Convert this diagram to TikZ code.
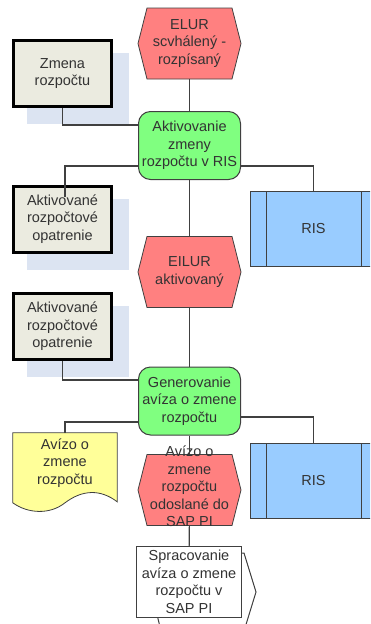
\documentclass[tikz,border=0pt]{standalone}
\usepackage{fontspec}
\setmainfont{Liberation Sans}
\usetikzlibrary{calc,backgrounds}
\definecolor{evtred}{RGB}{255,128,128}
\definecolor{fungreen}{RGB}{128,255,128}
\definecolor{risblue}{RGB}{153,204,255}
\definecolor{docyellow}{RGB}{255,255,153}
\definecolor{boxfill}{RGB}{235,235,224}
\definecolor{shadowblue}{RGB}{220,228,242}
\definecolor{edgegrey}{RGB}{64,64,64}
\definecolor{txtgrey}{RGB}{51,51,51}
\newcommand\evthex[1]{\path[evtshape] ($(#1.center)+(-51.5,0)$) -- ($(#1.center)+(-42.5,-35.5)$) -- ($(#1.center)+(42.5,-35.5)$) -- ($(#1.center)+(51.5,0)$) -- ($(#1.center)+(42.5,35.5)$) -- ($(#1.center)+(-42.5,35.5)$) -- cycle;}
\newcommand\orgshadow[1]{\path[shadowfill] ($(#1.north west)+(15,14)$) rectangle ($(#1.south east)+(16,16)$);}
\newcommand\rislines[1]{\draw[risline] ($(#1.north west)+(16,0)$) -- ($(#1.south west)+(16,0)$); \draw[risline] ($(#1.north east)+(-16,0)$) -- ($(#1.south east)+(-16,0)$);}
\begin{document}
\begin{tikzpicture}[x=1pt,y=-1pt,
  every node/.style={font=\fontsize{14.5}{17.5}\selectfont, text=txtgrey, align=center, inner sep=0pt},
  orgbox/.style={draw=black, line width=3pt, fill=boxfill, minimum width=98pt, minimum height=66pt},
  funcbox/.style={draw=edgegrey, line width=1pt, fill=fungreen, rounded corners=12pt, minimum width=102pt, minimum height=68pt},
  evtnode/.style={minimum width=103pt, minimum height=70pt},
  evtshape/.style={fill=evtred, draw=edgegrey, line width=0.8pt},
  risbox/.style={draw=edgegrey, line width=1pt, fill=risblue, minimum width=126pt, minimum height=75pt},
  risline/.style={draw=edgegrey, line width=1pt},
  docnode/.style={minimum width=104pt, minimum height=60pt},
  docshape/.style={fill=docyellow, draw=edgegrey, line width=0.8pt},
  procbox/.style={draw=edgegrey, line width=1pt, fill=white, minimum width=105pt, minimum height=71pt},
  procback/.style={draw=edgegrey, line width=1pt, fill=white},
  conn/.style={draw=edgegrey, line width=1.1pt},
  shadowfill/.style={fill=shadowblue}]
\useasboundingbox (0,0) rectangle (370,624);
\clip (0,0) rectangle (370,624);
% nodes
\node[evtnode] (e1) at (189.5,43.5) {ELUR\\scvhálený -\\rozpísaný};
\node[orgbox] (b1) at (62.5,73.5) {Zmena\\rozpočtu};
\node[funcbox] (f1) at (189.5,145.5) {Aktivovanie\\zmeny\\rozpočtu v RIS};
\node[orgbox] (b2) at (62.5,219) {Aktivované\\rozpočtové\\opatrenie};
\node[risbox] (R1) at (313.5,229) {RIS};
\node[evtnode] (e2) at (189.5,272) {EILUR\\aktivovaný};
\node[orgbox] (b3) at (62.5,326.5) {Aktivované\\rozpočtové\\opatrenie};
\node[funcbox] (f2) at (189.5,401) {Generovanie\\avíza o zmene\\rozpočtu};
\node[docnode] (doc) at (65,463) {Avízo o\\zmene\\rozpočtu};
\node[evtnode] (e3) at (189.5,490) {\raisebox{-3.5pt}{\smash{\begin{tabular}{@{}c@{}}Avízo o\\zmene\\rozpočtu\\odoslané do\\SAP PI\end{tabular}}}};
\node[risbox] (R2) at (313.5,481) {RIS};
\node[procbox] (p1) at (189,582) {Spracovanie\\avíza o zmene\\rozpočtu v\\SAP PI};
\rislines{R1}
\rislines{R2}
% background shapes
\begin{scope}[on background layer]
  \orgshadow{b1}
  \orgshadow{b2}
  \orgshadow{b3}
  \evthex{e1}
  \evthex{e2}
  \evthex{e3}
  \path[docshape] (doc.north west) -- (doc.north east) -- ($(doc.north east)+(0,69)$)
     .. controls ($(doc.north east)+(-17,56)$) and ($(doc.north east)+(-35,57)$) .. ($(doc.north)+(0,70)$)
     .. controls ($(doc.north)+(-15,82)$) and ($(doc.north)+(-37,81)$) .. ($(doc.north west)+(0,70)$) -- cycle;
  \path[procback] ($(p1.north west)+(6,7)$) -- ($(p1.north east)+(2,7)$) -- ($(p1.east)+(14,10)$)
     -- ($(p1.south east)+(2,13)$) -- ($(p1.south west)+(25,13)$) -- cycle;
\end{scope}
% connectors
\draw[conn] (e1) -- (f1);
\draw[conn] (b1.south) |- ([yshift=20.5pt]f1.west);
\draw[conn] ([yshift=-20.5pt]f1.west) -| ([xshift=2.5pt,yshift=-12pt]b2.north);
\draw[conn] ([yshift=-20.5pt]f1.east) -| (R1.north);
\draw[conn] (f1) -- (e2);
\draw[conn] (e2) -- (f2);
\draw[conn] (b3.south) |- ([yshift=21pt]f2.west);
\draw[conn] ([yshift=-21pt]f2.west) -| (doc.north);
\draw[conn] ([yshift=-16pt]f2.east) -| (R2.north);
\draw[conn] (f2) -- (e3);
\draw[conn] (e3) -- (p1);
\end{tikzpicture}
\end{document}
